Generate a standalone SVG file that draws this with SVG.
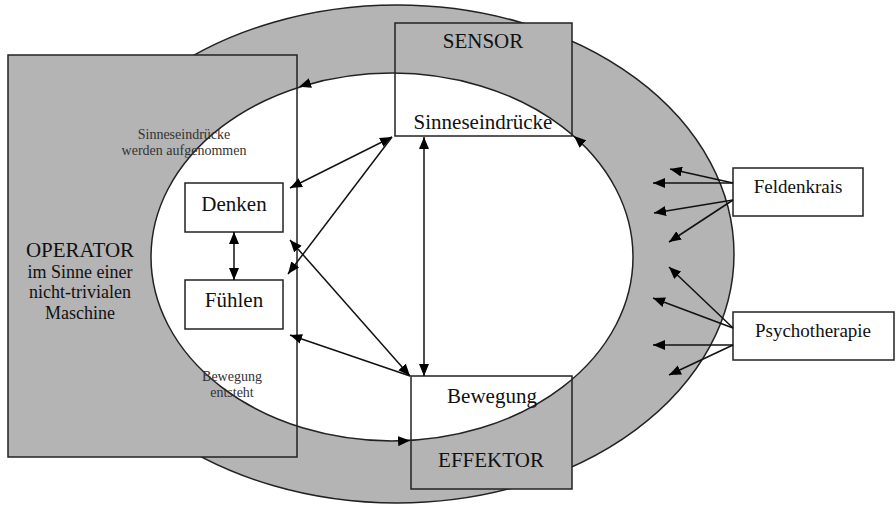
<svg xmlns="http://www.w3.org/2000/svg" width="896" height="505" viewBox="0 0 896 505">
<style>
.bg{fill:#b4b4b4;stroke:#222;stroke-width:1.5}
.ol{fill:none;stroke:#222;stroke-width:1.5}
.box{fill:#fff;stroke:#222;stroke-width:1.5}
.ln{fill:none;stroke:#111;stroke-width:1.5}
.t{font-family:"Liberation Serif","Times New Roman",serif;fill:#111;text-anchor:middle}
.big{font-size:21px}
.mid{font-size:18px}
.sm{font-size:14px;fill:#333}
.side{font-size:19px}
</style>
<defs>
<marker id="ah" viewBox="0 0 12 10" refX="12" refY="5" markerWidth="12" markerHeight="10" markerUnits="userSpaceOnUse" orient="auto-start-reverse">
<path d="M0,0 L12,5 L0,10 z" fill="#000"/>
</marker>
</defs>
<g id="background">
<ellipse cx="397" cy="254" rx="337" ry="249" class="bg"/>
<rect x="8" y="55" width="289" height="402" fill="#b4b4b4"/>
<rect x="395" y="23" width="177" height="113" fill="#b4b4b4"/>
<rect x="411" y="376" width="161" height="113" fill="#b4b4b4"/>
<ellipse cx="392" cy="257" rx="241" ry="184" fill="#fff" stroke="#222" stroke-width="1.5"/>
</g>
<g id="operator">
<rect x="8" y="55" width="289" height="402" class="ol"/>
<text class="t big" x="80" y="257">OPERATOR</text>
<text class="t mid" x="80" y="278">im Sinne einer</text>
<text class="t mid" x="80" y="298">nicht-trivialen</text>
<text class="t mid" x="80" y="319">Maschine</text>
<text class="t sm" x="184" y="139">Sinneseindrücke</text>
<text class="t sm" x="184" y="155">werden aufgenommen</text>
<text class="t sm" x="232" y="381">Bewegung</text>
<text class="t sm" x="232" y="397">entsteht</text>
</g>
<g id="sensor">
<rect x="395" y="23" width="177" height="113" class="ol"/>
<text class="t big" x="483" y="48">SENSOR</text>
<text class="t big" x="483" y="129">Sinneseindrücke</text>
</g>
<g id="effektor">
<rect x="411" y="376" width="161" height="113" class="ol"/>
<text class="t big" x="492" y="403">Bewegung</text>
<text class="t big" x="491" y="467">EFFEKTOR</text>
</g>
<g id="denken">
<rect x="185" y="183" width="98" height="49" class="box"/>
<text class="t big" x="234" y="211">Denken</text>
</g>
<g id="fuehlen">
<rect x="185" y="280" width="98" height="49" class="box"/>
<text class="t big" x="234" y="307">Fühlen</text>
</g>
<g id="feldenkrais">
<rect x="733" y="168" width="130" height="48" class="box"/>
<text class="t side" x="798" y="193">Feldenkrais</text>
</g>
<g id="psychotherapie">
<rect x="733" y="312" width="161" height="48" class="box"/>
<text class="t side" x="813" y="337">Psychotherapie</text>
</g>
<g id="connectors">
<path class="ln" d="M290 188 L392 137" marker-start="url(#ah)" marker-end="url(#ah)"/>
<path class="ln" d="M392 137 L288 274" marker-end="url(#ah)"/>
<path class="ln" d="M410 376 L290 240" marker-start="url(#ah)" marker-end="url(#ah)"/>
<path class="ln" d="M410 376 L290 335" marker-end="url(#ah)"/>
<path class="ln" d="M424 137 L424 376" marker-start="url(#ah)" marker-end="url(#ah)"/>
<path class="ln" d="M234 232 L234 280" marker-start="url(#ah)" marker-end="url(#ah)"/>
<path d="M312 82.6 L299 86.8" fill="none" stroke="none" marker-end="url(#ah)"/>
<path d="M583 144 L574 136" fill="none" stroke="none" marker-end="url(#ah)"/>
<path d="M396 441.3 L410 440.5" fill="none" stroke="none" marker-end="url(#ah)"/>
<path class="ln" d="M733 183 L670 169"  marker-end="url(#ah)"/>
<path class="ln" d="M733 183 L653 183"  marker-end="url(#ah)"/>
<path class="ln" d="M733 200 L654 213"  marker-end="url(#ah)"/>
<path class="ln" d="M733 200 L669 242"  marker-end="url(#ah)"/>
<path class="ln" d="M733 328 L669 267" stroke-width="1" marker-end="url(#ah)"/>
<path class="ln" d="M733 328 L653 298"  marker-end="url(#ah)"/>
<path class="ln" d="M733 345 L653 345"  marker-end="url(#ah)"/>
<path class="ln" d="M733 345 L669 375" stroke-width="1" marker-end="url(#ah)"/>
</g>
</svg>
